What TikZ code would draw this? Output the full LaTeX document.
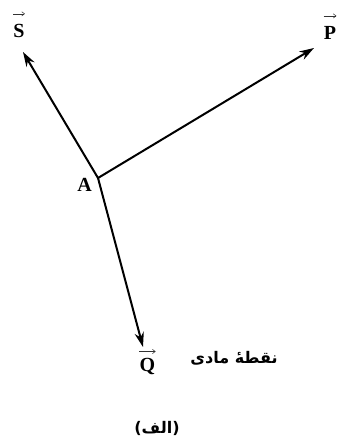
\documentclass[tikz,border=0pt]{standalone}
\usepackage{fontspec}
\setmainfont{Liberation Serif}
\newfontfamily\arabicfont[Script=Arabic]{DejaVu Sans}
\TeXXeTstate=1
\usetikzlibrary{arrows.meta}

\begin{document}
\begin{tikzpicture}[>={Stealth[length=11pt, width=7pt]}, x=0.75pt, y=-0.75pt,
    force/.style={->, line width=1.5pt},
    vec/.style={font=\bfseries\fontsize{15}{17}\selectfont, inner sep=0pt, anchor=base},
    over/.style={-{To[length=2.5pt, width=3.5pt]}, line width=0.4pt, black!80},
    persian/.style={font=\arabicfont\bfseries\fontsize{12}{14}\selectfont, inner sep=0pt}]
            \useasboundingbox (0, 0) rectangle (336, 441);

            \coordinate (A) at (98, 178);
            \coordinate (Stip) at (23, 52);
            \coordinate (Ptip) at (314, 48);
            \coordinate (Qtip) at (143, 347);

            \draw[force] (A) -- (Stip);
            \draw[force] (A) -- (Ptip);
            \draw[force] (A) -- (Qtip);

            \node[vec] (Alabel) at (84.5, 192) {A};
            \node[vec] (S) at (19, 38) {S};
            \node[vec] (P) at (330, 40) {P};
            \node[vec] (Q) at (147.5, 371) {Q};
            \draw[over] ([yshift=8pt]S.north west) -- ([yshift=8pt]S.north east);
            \draw[over] ([yshift=8pt]P.north west) -- ([yshift=8pt]P.north east);
            \draw[over] ([yshift=4.5pt]Q.north west) -- ([yshift=4.5pt]Q.north east);

            \node[persian] (point) at (234, 358) {\beginR نقطهٔ مادی\endR};
            \node[persian] (caption) at (157, 428) {\beginR (الف)\endR};
        \end{tikzpicture}
\end{document}
